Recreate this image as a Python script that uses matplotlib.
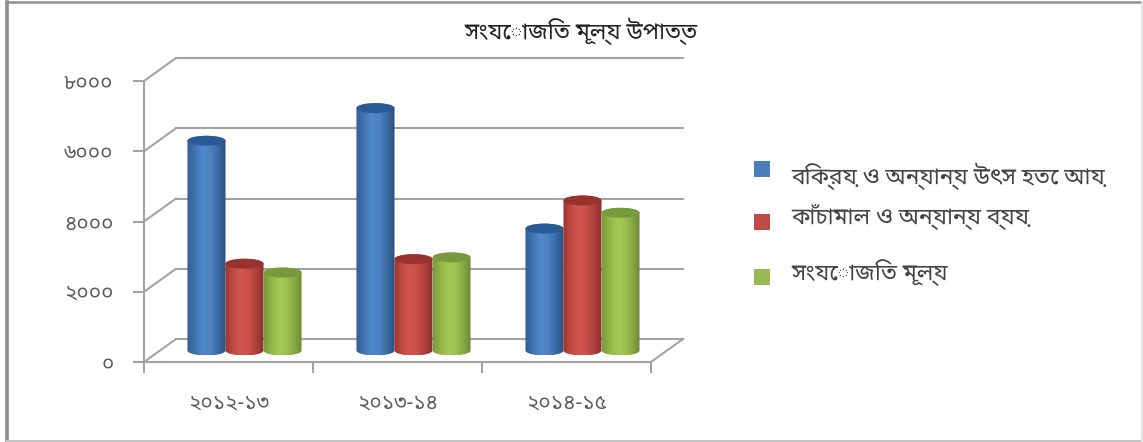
import numpy as np
import matplotlib
matplotlib.use("Agg")
import matplotlib.pyplot as plt
from matplotlib.colors import LinearSegmentedColormap
from matplotlib.lines import Line2D
from matplotlib.patches import Ellipse, Rectangle
from matplotlib.path import Path
from matplotlib.transforms import Affine2D, IdentityTransform

plt.rcParams['font.family'] = ['Noto Sans Bengali', 'Noto Serif Bengali', 'Lohit Bengali', 'FreeSans', 'DejaVu Sans']

# data
title = "সংযোজিত মূল্য উপাত্ত"
categories = ["২০১২-১৩", "২০১৩-১৪", "২০১৪-১৫"]
series_names = ["বিক্রয় ও অন্যান্য উৎস হতে আয়", "কাঁচামাল ও অন্যান্য ব্যয়", "সংযোজিত মূল্য"]
sales = [5970, 6900, 3470]
material = [2470, 2600, 4270]
added = [2220, 2650, 3920]
tick_values = [0, 2000, 4000, 6000, 8000]
tick_labels = ["০", "২০০০", "৪০০০", "৬০০০", "৮০০০"]

W, H = 1143, 442
grey = "#a3a3a3"
txt = "#5c5c5c"

fig = plt.figure(figsize=(W / 100, H / 100), dpi=100, facecolor="white")


def frame_line(x, y, color, lw):
    fig.add_artist(Line2D(np.array(x) / W, 1 - np.array(y) / H, color=color, lw=lw,
                          transform=fig.transFigure))


# picture frame, dark on top and left, faint on the other sides
frame_line([7, 7], [2, 442], "#8e8e8e", 2.6)
frame_line([6, 1143], [2, 2], "#8e8e8e", 1.8)
frame_line([7, 1143], [441, 441], "#c4c4c4", 1.5)
frame_line([1141.5, 1141.5], [2, 442], "#e6e6e6", 1.5)

# front plane of the box, pixel position
ax = fig.add_axes([144 / W, 1 - 362 / H, 507 / W, 281 / H])
ax.patch.set_alpha(0)
ax.set_xlim(0, 3)
ax.set_ylim(0, 8000)
ax.set_autoscale_on(False)
back = ax.transData + Affine2D().translate(32, 23)
mid = ax.transData + Affine2D().translate(16, 11.5)
pixels = IdentityTransform()

for v in tick_values:
    ax.plot([0, 3], [v, v], color=grey, lw=1.5, transform=back, clip_on=False, zorder=1)
    # wall diagonals
    p0 = ax.transData.transform((0, v))
    p1 = back.transform((0, v))
    ax.plot([p0[0], p1[0]], [p0[1], p1[1]], color=grey, lw=1.5, transform=pixels, clip_on=False, zorder=1)

p0 = ax.transData.transform((3, 0))
p1 = back.transform((3, 0))
ax.plot([p0[0], p1[0]], [p0[1], p1[1]], color=grey, lw=1.5, transform=pixels, clip_on=False, zorder=1)

palettes = [
    ["#2f5f98", "#4274b2", "#5088cc", "#4c82c2", "#3a6aa3", "#2a5080"],
    ["#99352f", "#c24a45", "#d2564f", "#cb4f4a", "#ae3f3b", "#8a302d"],
    ["#7a9a3c", "#94b648", "#a5c856", "#9ec052", "#86a642", "#6c8634"],
]
top_colors = ["#2b5b94", "#973230", "#789a3c"]
bar_w = 0.225
ry = 5.0 / (281 / 8000)  # ellipse half height in value units

all_values = [sales, material, added]
grad = np.linspace(0, 1, 64).reshape(1, -1)
for s, vals in enumerate(all_values):
    cmap = LinearSegmentedColormap.from_list("c%d" % s, palettes[s])
    for i, v in enumerate(vals):
        cx = i + 0.5 + (s - 1) * bar_w
        x0, x1 = cx - bar_w / 2, cx + bar_w / 2
        t = np.linspace(np.pi, 2 * np.pi, 30)
        lower = np.c_[cx + bar_w / 2 * np.cos(t), ry * np.sin(t)]
        t = np.linspace(0, np.pi, 30)
        upper = np.c_[cx + bar_w / 2 * np.cos(t), v + ry * np.sin(t)]
        outline = Path(np.r_[lower, upper, lower[:1]])
        im = ax.imshow(grad, extent=[x0, x1, -ry, v + ry], aspect="auto", cmap=cmap,
                       transform=mid, zorder=3 + s * 0.1, interpolation="bilinear")
        im.set_clip_path(outline, transform=mid)
        ax.add_patch(Ellipse((cx, v), bar_w, 2 * ry, fc=top_colors[s], ec="none",
                             transform=mid, zorder=3.05 + s * 0.1, clip_on=False))

for name in ["top", "right"]:
    ax.spines[name].set_visible(False)
for name in ["left", "bottom"]:
    ax.spines[name].set_color(grey)
    ax.spines[name].set_linewidth(1.5)
ax.set_yticks(tick_values)
ax.set_yticklabels(tick_labels, color=txt, fontsize=15)
ax.tick_params(axis="y", length=8, width=1.5, color=grey, pad=14)
ax.set_xticks([0, 1, 2, 3])
ax.set_xticklabels([])
ax.tick_params(axis="x", which="major", length=8, width=1.5, color=grey)
ax.set_xticks([0.5, 1.5, 2.5], minor=True)
ax.set_xticklabels(categories, minor=True, color=txt, fontsize=15)
ax.tick_params(axis="x", which="minor", length=0, pad=22)

fig.text(581 / W, 1 - 31 / H, title, ha="center", va="center", fontsize=16.4, color="#222222")

legend_colors = ["#4a7ebb", "#be4b48", "#98b954"]
square_y = [169, 222, 277]
text_y = [176, 217, 273]
for c, sy, ty, name in zip(legend_colors, square_y, text_y, series_names):
    fig.add_artist(Rectangle((754 / W, 1 - (sy + 8) / H), 16 / W, 16 / H, transform=fig.transFigure,
                             fc=c, ec="none"))
    fig.text(791 / W, 1 - ty / H, name, ha="left", va="center", fontsize=16.4, color="#444444")

fig.savefig("out.png", dpi=100, facecolor="white")
